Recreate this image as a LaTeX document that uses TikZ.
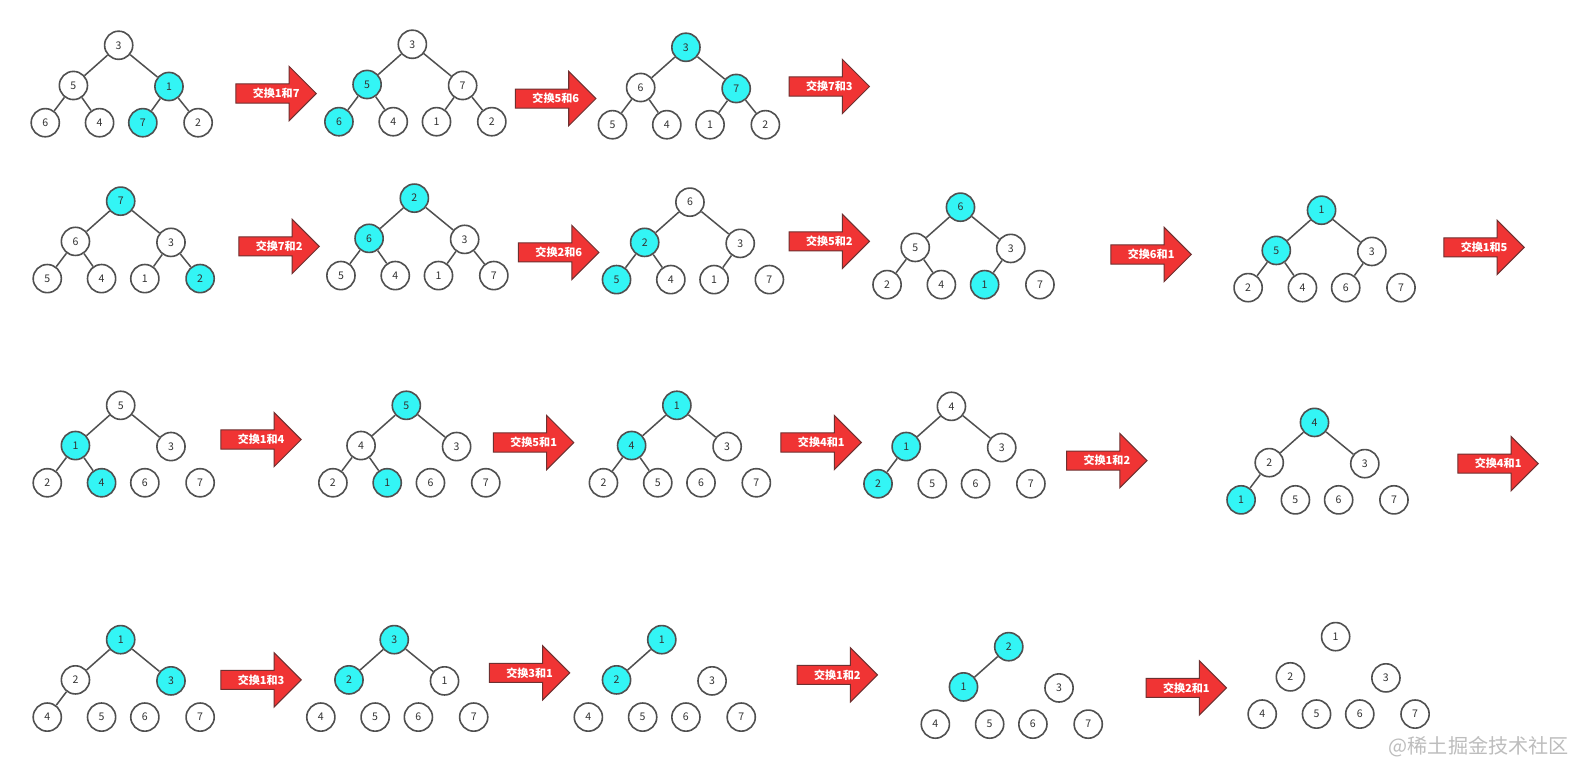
\documentclass[tikz,border=0pt]{standalone}
\usepackage{fontspec}
\usepackage{xcolor}
\usepackage{tikz}
\usetikzlibrary{shapes.arrows,calc}
\newfontfamily\cjk{Noto Sans CJK SC}
\definecolor{HSCyan}{HTML}{33F5F5}
\definecolor{HSRed}{HTML}{F03434}
\definecolor{HSRedLine}{HTML}{6E3030}
\definecolor{HSLine}{HTML}{505050}
\definecolor{HSText}{HTML}{333333}
\definecolor{HSMark}{HTML}{BDBDBD}
% one heap: name, root position, value/style list, edge list
\newcommand{\heap}[4]{%
  \coordinate (#1) at (#2);
  \foreach \v/\s [count=\i from 0] in {#3} {
    \pgfmathsetmacro\dx{{0,-45,50,-73,-19,24,79}[\i]}
    \pgfmathsetmacro\dy{{0,40,41,77,77,77,77}[\i]}
    \node[\s] (#1-\i) at ($(#1)+(\dx,\dy)$) {\v};
  }
  \if\relax\detokenize{#4}\relax\else
    \foreach \a/\b in {#4} \draw[link] (#1-\a) -- (#1-\b);
  \fi}
% one swap arrow: name, tail position, text
\newcommand{\swap}[3]{%
  \node[swaparrow, anchor=tail] (#1) at (#2) {};
  \node[swaptext] (#1-t) at ($(#1.tail)!0.5!(#1.tip)$) {#3};}

\begin{document}
\begin{tikzpicture}[
    x=1pt,y=-1pt,
    nd/.style={circle, draw=HSLine, line width=1.6pt, fill=white,
      minimum size=28pt, inner sep=0pt,
      font=\cjk\fontsize{10.5}{12}\selectfont, text=HSText},
    hot/.style={nd, fill=HSCyan},
    link/.style={draw=HSLine, line width=1.5pt},
    swaparrow/.style={single arrow, draw=HSRedLine, fill=HSRed, line width=1pt,
      minimum height=80pt, minimum width=0pt, inner sep=0pt, inner ysep=9pt,
      single arrow head extend=17.5pt, single arrow tip angle=90,
      single arrow head indent=0pt},
    swaptext/.style={font=\cjk\bfseries\fontsize{11}{12}\selectfont,
      text=white, inner sep=0pt}
  ]
    \useasboundingbox (0,0) rectangle (1568,757);
    \fill[white] (0,0) rectangle (1568,757);

    % row 1
    \heap{t1}{118,45}{3/nd,5/nd,1/hot,6/nd,4/nd,7/hot,2/nd}{0/1,0/2,1/3,1/4,2/5,2/6}
    \swap{a1}{234,93}{交换1和7}
    \heap{t2}{410,44}{3/nd,5/hot,7/nd,6/hot,4/nd,1/nd,2/nd}{0/1,0/2,1/3,1/4,2/5,2/6}
    \swap{a2}{512,98}{交换5和6}
    \heap{t3}{682,47}{3/hot,6/nd,7/hot,5/nd,4/nd,1/nd,2/nd}{0/1,0/2,1/3,1/4,2/5,2/6}
    \swap{a3}{784,86}{交换7和3}

    % row 2
    \heap{t4}{120,200}{7/hot,6/nd,3/nd,5/nd,4/nd,1/nd,2/hot}{0/1,0/2,1/3,1/4,2/5,2/6}
    \swap{a4}{237,245}{交换7和2}
    \heap{t5}{412,197}{2/hot,6/hot,3/nd,5/nd,4/nd,1/nd,7/nd}{0/1,0/2,1/3,1/4,2/5,2/6}
    \swap{a5}{515,251}{交换2和6}
    \heap{t6}{686,201}{6/nd,2/hot,3/nd,5/hot,4/nd,1/nd,7/nd}{0/1,0/2,1/3,1/4,2/5}
    \swap{a6}{784,240}{交换5和2}
    \heap{t7}{955,206}{6/hot,5/nd,3/nd,2/nd,4/nd,1/hot,7/nd}{0/1,0/2,1/3,1/4,2/5}
    \swap{a7}{1104,253}{交换6和1}
    \heap{t8}{1314,209}{1/hot,5/hot,3/nd,2/nd,4/nd,6/nd,7/nd}{0/1,0/2,1/3,1/4,2/5}
    \swap{a8}{1435,246}{交换1和5}

    % row 3
    \heap{t9}{120,403}{5/nd,1/hot,3/nd,2/nd,4/hot,6/nd,7/nd}{0/1,0/2,1/3,1/4}
    \swap{a9}{219,437}{交换1和4}
    \heap{t10}{404,403}{5/hot,4/nd,3/nd,2/nd,1/hot,6/nd,7/nd}{0/1,0/2,1/3,1/4}
    \swap{a10}{490,440}{交换5和1}
    \heap{t11}{673,403}{1/hot,4/hot,3/nd,2/nd,5/nd,6/nd,7/nd}{0/1,0/2,1/3,1/4}
    \swap{a11}{776,440}{交换4和1}
    \heap{t12}{946,404}{4/nd,1/hot,3/nd,2/hot,5/nd,6/nd,7/nd}{0/1,0/2,1/3}
    \swap{a12}{1060,458}{交换1和2}
    \heap{t13}{1307,420}{4/hot,2/nd,3/nd,1/hot,5/nd,6/nd,7/nd}{0/1,0/2,1/3}
    \swap{a13}{1449,461}{交换4和1}

    % row 4
    \heap{t14}{120,636}{1/hot,2/nd,3/hot,4/nd,5/nd,6/nd,7/nd}{0/1,0/2,1/3}
    \swap{a14}{219,676}{交换1和3}
    \heap{t15}{392,636}{3/hot,2/hot,1/nd,4/nd,5/nd,6/nd,7/nd}{0/1,0/2}
    \swap{a15}{486,669}{交换3和1}
    \heap{t16}{658,636}{1/hot,2/hot,3/nd,4/nd,5/nd,6/nd,7/nd}{0/1}
    \swap{a16}{792,671}{交换1和2}
    \heap{t17}{1003,643}{2/hot,1/hot,3/nd,4/nd,5/nd,6/nd,7/nd}{0/1}
    \swap{a17}{1139,684}{交换2和1}
    \heap{t18}{1328,633}{1/nd,2/nd,3/nd,4/nd,5/nd,6/nd,7/nd}{}

    \node[font=\cjk\fontsize{20}{22}\selectfont, text=HSMark, anchor=east,
      inner sep=0pt] (mark) at (1560,742) {@稀土掘金技术社区};
  \end{tikzpicture}
\end{document}
